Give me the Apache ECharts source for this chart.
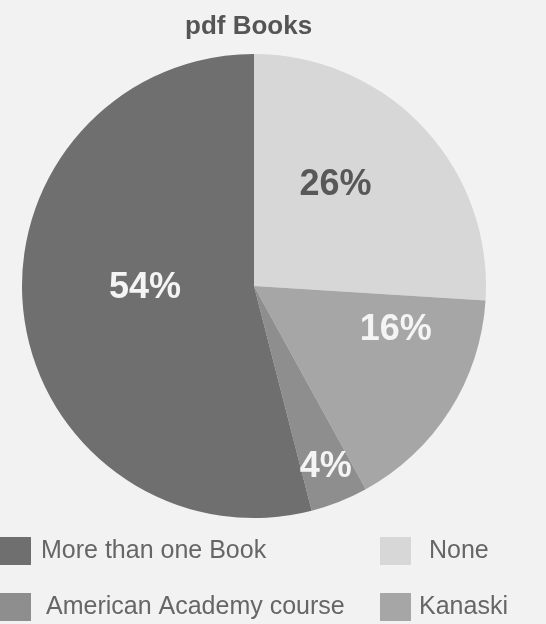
<!DOCTYPE html>
<html><head><meta charset="utf-8">
<script src="https://cdn.jsdelivr.net/npm/echarts@6/dist/echarts.min.js"></script>
<style>html,body{margin:0;padding:0;background:#f2f2f2}#c{width:546px;height:624px}</style>
</head><body><div id="c"></div>
<script>
var categories = ['None', 'Kanaski', 'American Academy course', 'More than one Book'];
var values = [26, 16, 4, 54];

// styling / layout (not data)
var colors = ['#d7d7d7', '#a6a6a6', '#8e8e8e', '#6f6f6f'];
var labelColors = ['#585858', '#f4f4f4', '#f4f4f4', '#f4f4f4'];
var labelRadiusFrac = [0.56, 0.64, 0.84, 0.47];
var labelAngleShift = [-8, -15, 0, 6];
var CX = 254, CY = 286, R = 232;
var legendItems = [
  {name: 'More than one Book', left: 0, top: 537, gap: 10},
  {name: 'None', left: 380, top: 537, gap: 18},
  {name: 'American Academy course', left: 0, top: 593, gap: 15},
  {name: 'Kanaski', left: 380, top: 593, gap: 8}
];
var chart = echarts.init(document.getElementById('c'));
var legends = legendItems.map(function (l) {
  return {
    data: [l.name], left: l.left, top: l.top, orient: 'horizontal',
    itemWidth: 31, itemHeight: 28, itemGap: 0, padding: 0, icon: 'rect',
    selectedMode: false,
    textStyle: {fontFamily: 'Liberation Sans, Arial', fontSize: 25, color: '#666666', padding: [0, 0, 0, l.gap - 5]}
  };
});
chart.setOption({
  backgroundColor: '#f2f2f2',
  animation: false,
  title: {
    text: 'pdf Books', left: 180, top: 9,
    textStyle: {fontFamily: 'Liberation Sans, Arial', fontSize: 26, fontWeight: 'bold', color: '#555555'}
  },
  legend: legends,
  series: [{
    type: 'pie',
    center: [CX, CY],
    radius: R,
    startAngle: 90,
    clockwise: true,
    silent: true,
    data: categories.map(function (c, i) {
      return {name: c, value: values[i], itemStyle: {color: colors[i]}, label: {color: labelColors[i]}};
    }),
    label: {
      position: 'inside',
      formatter: '{c}%',
      fontFamily: 'Liberation Sans, Arial',
      fontSize: 36, fontWeight: 'bold'
    },
    labelLine: {show: false},
    labelLayout: function (p) {
      var lr = p.labelRect;
      var cx = lr.x + lr.width / 2, cy = lr.y + lr.height / 2;
      var dx = cx - CX, dy = cy - CY;
      // screen angle, clockwise from 12 o'clock
      var a = Math.atan2(dx, -dy) + labelAngleShift[p.dataIndex] * Math.PI / 180;
      var target = labelRadiusFrac[p.dataIndex] * R;
      var nx = CX + target * Math.sin(a), ny = CY - target * Math.cos(a);
      return {dx: nx - cx, dy: ny - cy};
    }
  }]
});
</script></body></html>
